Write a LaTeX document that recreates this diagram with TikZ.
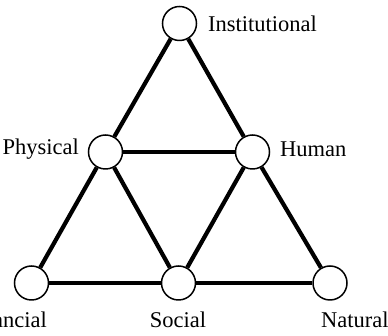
\documentclass[tikz,border=0pt]{standalone}
\usepackage{fontspec}
\setmainfont{Liberation Serif}
\begin{document}
\begin{tikzpicture}[x=1pt, y=1pt,
  capnode/.style={draw, circle, line width=1.5pt, minimum size=34pt, inner sep=0pt},
  link/.style={line width=4.2pt},
  tag/.style={inner sep=0pt, font=\fontsize{22.5}{26}\selectfont}]
\clip (0,0) rectangle (388,336);
\useasboundingbox (0,0) rectangle (388,336);
\node[capnode] (inst) at (179.5,312.5) {};
\node[capnode] (phys) at (105.5,184) {};
\node[capnode] (hum) at (252.5,184) {};
\node[capnode] (fin) at (31.5,53) {};
\node[capnode] (soc) at (178.5,53) {};
\node[capnode] (nat) at (330,53) {};

\node[tag, anchor=base west] at (208,304) {Institutional};
\node[tag, anchor=base east] at (79,181) {Physical};
\node[tag, anchor=base west] at (280,179) {Human};
\node[tag, anchor=base east] at (47,8) {Financial};
\node[tag, anchor=base] at (178,8) {Social};
\node[tag, anchor=base west] at (321,8) {Natural};

\draw[link] (inst) -- (phys);
\draw[link] (inst) -- (hum);
\draw[link] (phys) -- (hum);
\draw[link] (phys) -- (fin);
\draw[link] (phys) -- (soc);
\draw[link] (hum) -- (soc);
\draw[link] (hum) -- (nat);
\draw[link] (fin) -- (soc);
\draw[link] (soc) -- (nat);
\end{tikzpicture}
\end{document}
